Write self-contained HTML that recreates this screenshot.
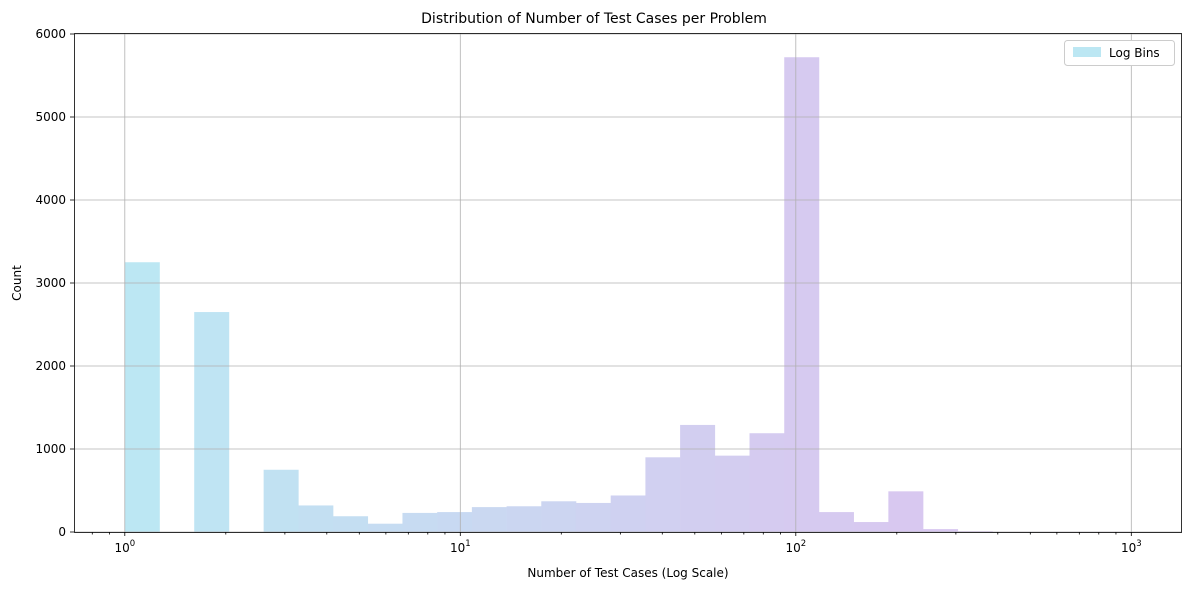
<!DOCTYPE html>
<html><head><style>
body{margin:0;background:#fff;font-family:"Liberation Sans","DejaVu Sans",sans-serif;}
svg text{font-family:"DejaVu Sans","Liberation Sans",sans-serif;}
</style></head><body>
<svg id="s" width="1189" height="590" xmlns="http://www.w3.org/2000/svg">
<rect width="1189" height="590" fill="#fff"/>
<g id="bars"></g>
<g id="grid" stroke="#b0b0b0" stroke-width="0.8"></g>
<g id="ticks" stroke="#000" stroke-width="0.8"></g>
<rect x="74.5" y="33.5" width="1107" height="499" fill="none" stroke="#000" stroke-width="0.8"/>
<g id="lbl" font-size="12" fill="#000"></g>
<text x="594" y="23" font-size="14" text-anchor="middle">Distribution of Number of Test Cases per Problem</text>
<text x="628" y="577" font-size="12" text-anchor="middle">Number of Test Cases (Log Scale)</text>
<text x="21" y="283" font-size="12" text-anchor="middle" transform="rotate(-90 21 283)">Count</text>
<rect x="1064.5" y="40.5" width="110" height="25" rx="3" fill="#fff" stroke="#ccc"/>
<rect x="1073" y="47" width="28" height="10" fill="#bce7f3"/>
<text x="1109" y="57" font-size="12">Log Bins</text>
</svg>
<script>
const ns="http://www.w3.org/2000/svg";
function el(p,t,a){const e=document.createElementNS(ns,t);for(const k in a)e.setAttribute(k,a[k]);p.appendChild(e);return e;}
const X=v=>124.8+Math.log10(v)*335.5, Y=c=>532-c*498/6000;
const h=[3250,0,2650,0,750,320,190,100,230,240,300,310,370,350,440,900,1290,920,1190,5720,240,120,490,35,10,3,2,2,2];
const n=h.length,w=1006.5/n;
const c0=[188,231,243],c1=[213,203,240],c2=[220,196,240];
const B=document.getElementById('bars');
h.forEach((v,i)=>{if(!v)return;const t=i/(n-1);let c;
 if(t<0.65){const u=t/0.65;c=c0.map((a,j)=>Math.round(a+(c1[j]-a)*u));}else{const u=(t-0.65)/0.35;c=c1.map((a,j)=>Math.round(a+(c2[j]-a)*u));}
 el(B,'rect',{x:124.8+i*w,y:Y(v),width:w+0.3,height:532-Y(v),fill:`rgb(${c})`});});
const G=document.getElementById('grid'),T=document.getElementById('ticks'),L=document.getElementById('lbl');
for(let k=0;k<=3;k++){const x=X(10**k);el(G,'line',{x1:x,x2:x,y1:33,y2:532});el(T,'line',{x1:x,x2:x,y1:532,y2:536});
 const t=el(L,'text',{x:x,y:552,'text-anchor':'middle'});t.textContent='10';
 const s=el(t,'tspan',{dy:-6,'font-size':'8.5'});s.textContent=k;}
for(let k=-1;k<=3;k++)for(let m=2;m<=9;m++){const v=m*10**k,x=X(v);if(x<74||x>1181)continue;el(T,'line',{x1:x,x2:x,y1:532,y2:534.5});}
for(let c=0;c<=6000;c+=1000){const y=Y(c);el(G,'line',{x1:74,x2:1181,y1:y,y2:y});el(T,'line',{x1:70,x2:74,y1:y,y2:y});
 const t=el(L,'text',{x:66,y:y+4,'text-anchor':'end'});t.textContent=c;}
</script>
</body></html>
